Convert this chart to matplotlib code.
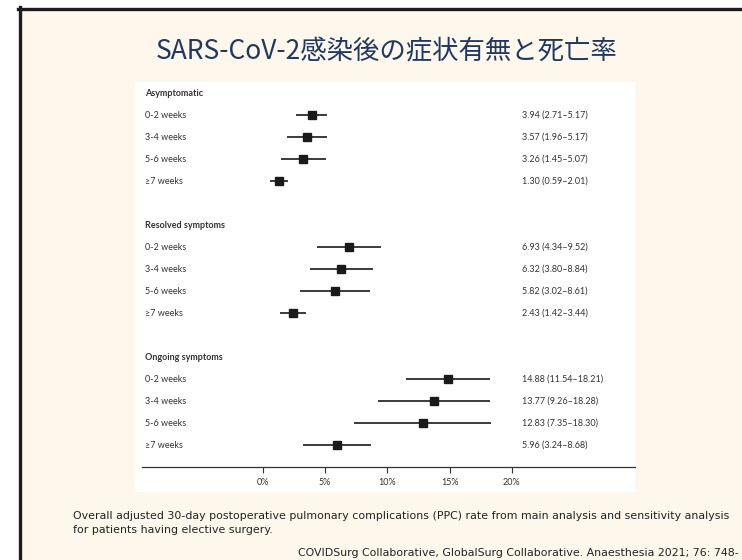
import matplotlib
matplotlib.use("Agg")
import matplotlib.pyplot as plt
from matplotlib.patches import Rectangle
from matplotlib.lines import Line2D

# ---------------- data ----------------
groups = ["Asymptomatic", "Resolved symptoms", "Ongoing symptoms"]
periods = ["0-2 weeks", "3-4 weeks", "5-6 weeks", "≥7 weeks"]
asym_est = [3.94, 3.57, 3.26, 1.30]
asym_lo = [2.71, 1.96, 1.45, 0.59]
asym_hi = [5.17, 5.17, 5.07, 2.01]
res_est = [6.93, 6.32, 5.82, 2.43]
res_lo = [4.34, 3.80, 3.02, 1.42]
res_hi = [9.52, 8.84, 8.61, 3.44]
ong_est = [14.88, 13.77, 12.83, 5.96]
ong_lo = [11.54, 9.26, 7.35, 3.24]
ong_hi = [18.21, 18.28, 18.30, 8.68]
xticks = [0, 5, 10, 15, 20]
xtick_labels = ["0%", "5%", "10%", "15%", "20%"]
title = "SARS-CoV-2感染後の症状有無と死亡率"
caption_lines = ["Overall adjusted 30-day postoperative pulmonary complications (PPC) rate from main analysis and sensitivity analysis",
                 "for patients having elective surgery."]
citation = "COVIDSurg Collaborative, GlobalSurg Collaborative. Anaesthesia 2021; 76: 748-"

W, H = 742, 560
fig = plt.figure(figsize=(W / 100, H / 100), dpi=100)
fig.patch.set_facecolor("white")

# slide background & frame
bg = fig.add_axes([0, 0, 1, 1])
bg.set_xlim(0, W)
bg.set_ylim(H, 0)
bg.axis("off")
bg.add_patch(Rectangle((19.5, 8.5), W, H, facecolor="#FEF7EC", edgecolor="none"))
bg.add_line(Line2D([19.5, 19.5], [7, H + 5], color="#1c1c1c", lw=2.4))
bg.add_line(Line2D([18, W + 5], [8.5, 8.5], color="#1c1c1c", lw=2.4))

bg.text(387, 52, title, ha="center", va="center", fontsize=19,
        color="#1F3864", family=["Noto Sans CJK JP", "DejaVu Sans"])
for i, line in enumerate(caption_lines):
    bg.text(73, 516 + 14 * i, line, ha="left", va="center", fontsize=7.95,
            color="#222222", family="DejaVu Sans")
bg.text(739, 553, citation, ha="right", va="center", fontsize=7.95,
        color="#222222", family="DejaVu Sans")

# forest plot panel
pl, pr, pt, pb = 135, 635, 82, 492
ax = fig.add_axes([pl / W, 1 - pb / H, (pr - pl) / W, (pb - pt) / H])
ax.set_facecolor("white")
x0, scale = 262.7, 12.46
ax.set_xlim((pl - x0) / scale, (pr - x0) / scale)
row_h = 22.0
top_row_y = 93.0
ax.set_ylim((pb - top_row_y) / row_h, (pt - top_row_y) / row_h)

for s in ["top", "left", "right"]:
    ax.spines[s].set_visible(False)
ax.spines["bottom"].set_position(("data", 17))
ax.spines["bottom"].set_bounds((142 - x0) / scale, (pr - x0) / scale)
ax.spines["bottom"].set_color("#333333")
ax.spines["bottom"].set_linewidth(0.9)
ax.set_yticks([])
ax.set_xticks(xticks)
ax.set_xticklabels(xtick_labels, family="Lato", fontsize=6.5, color="#333333")
ax.tick_params(axis="x", direction="out", length=4.5, width=0.8, color="#333333", pad=3.5)

label_x = (145 - x0) / scale
value_x = (522 - x0) / scale
txt_kw = dict(family="Lato", fontsize=6.5, color="#333333", va="center")

series = [(asym_est, asym_lo, asym_hi), (res_est, res_lo, res_hi), (ong_est, ong_lo, ong_hi)]
for gi, (g, (est, lo, hi)) in enumerate(zip(groups, series)):
    base = gi * 6
    ax.text(label_x, base, g, fontweight="bold", **txt_kw)
    for i, p in enumerate(periods):
        y = base + 1 + i
        ax.text(label_x, y, p, **txt_kw)
        ax.plot([lo[i], hi[i]], [y, y], color="#1a1a1a", lw=1.2, solid_capstyle="butt")
        ax.plot(est[i], y, marker="s", ms=5.2, color="#1a1a1a", mec="#1a1a1a")
        ax.text(value_x, y, f"{est[i]:.2f} ({lo[i]:.2f}–{hi[i]:.2f})", **txt_kw)

fig.savefig("out.png", dpi=100, facecolor=fig.get_facecolor())
